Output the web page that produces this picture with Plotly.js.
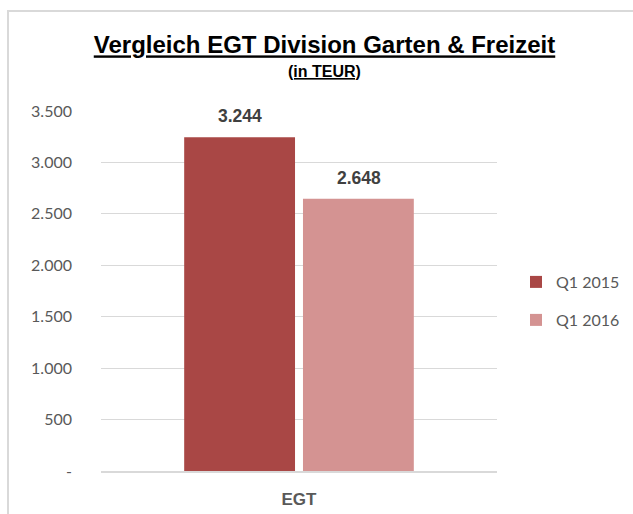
<!DOCTYPE html>
<html><head><meta charset="utf-8">
<script src="https://cdn.plot.ly/plotly-3.0.1.min.js"></script>
<style>
html,body{margin:0;padding:0;background:#fff;}
#wrap{position:relative;width:633px;height:514px;}
#chart{position:absolute;left:0;top:0;width:633px;height:514px;}
#frame{position:absolute;left:7px;top:10px;width:640px;height:520px;border-left:2px solid #d9d9d9;border-top:2px solid #d9d9d9;pointer-events:none;}
</style></head>
<body><div id="wrap"><div id="chart"></div><div id="frame"></div></div>
<script>
const categories = ['EGT'];
const seriesNames = ['Q1 2015', 'Q1 2016'];
const values2015 = [3244];
const values2016 = [2648];
const yTickVals = [0, 500, 1000, 1500, 2000, 2500, 3000, 3500];
const yTickText = ['-', '500', '1.000', '1.500', '2.000', '2.500', '3.000', '3.500'];
const colors = ['#a94745', '#d49392'];

const gray = '#595959';
const traces = [
  {type:'bar', name:seriesNames[0], x:categories, y:values2015, marker:{color:colors[0]}, legend:'legend', hoverinfo:'none'},
  {type:'bar', name:seriesNames[1], x:categories, y:values2016, marker:{color:colors[1]}, legend:'legend2', hoverinfo:'none'}
];

const fmt = v => v.toLocaleString('de-DE');
const annotations = [];
[values2015, values2016].forEach((vals, i) => {
  vals.forEach((v, j) => {
    annotations.push({x:categories[j], y:v, xref:'x', yref:'y', text:'<b>'+fmt(v)+'</b>', showarrow:false,
      xshift:(i===0?-59.5:59.5), yanchor:'bottom', yshift:9, font:{family:'Liberation Sans, Arial', size:17.5, color:'#404040'}});
  });
});
annotations.push({x:0.5, y:(470.7-71)/360, xref:'paper', yref:'paper', yanchor:'middle', text:'<b><u>(in TEUR)</u></b>', showarrow:false,
  xshift:25, font:{family:'Liberation Sans, Arial', size:16, color:'#000'}});

const legendFont = {family:'Lato, Open Sans, sans-serif', size:16, color:gray};
const layout = {
  width:633, height:514,
  margin:{l:101, r:136, t:110.7, b:43.3},
  paper_bgcolor:'#fff', plot_bgcolor:'#fff',
  title:{text:'<b><u>Vergleich EGT Division Garten & Freizeit</u></b>', x:324.5/633, xanchor:'center', xref:'container',
    y:1-45/514, yref:'container', yanchor:'middle', font:{family:'Liberation Sans, Arial', size:24, color:'#000'}},
  barmode:'group', bargap:0.4, bargroupgap:0.067,
  separators:',.',
  xaxis:{type:'category', showgrid:false, showline:true, linecolor:'#d9d9d9', linewidth:1.5, ticks:'',
    tickfont:{family:'Liberation Sans, Arial', size:17, color:gray, weight:'bold'}, ticklabelstandoff:12, fixedrange:true},
  yaxis:{range:[0,3500], tickvals:yTickVals, ticktext:yTickText, showgrid:true, gridcolor:'#d9d9d9', gridwidth:1,
    zeroline:false, showline:false, ticks:'', ticklabelstandoff:28,
    tickfont:{family:'Lato, Open Sans, sans-serif', size:16, color:gray}, fixedrange:true},
  showlegend:true,
  legend:{x:516/633, xref:'container', y:1-282/514, yref:'container', yanchor:'middle', xanchor:'left',
    font:legendFont, itemwidth:30, bgcolor:'rgba(0,0,0,0)'},
  legend2:{x:516/633, xref:'container', y:1-320/514, yref:'container', yanchor:'middle', xanchor:'left',
    font:legendFont, itemwidth:30, bgcolor:'rgba(0,0,0,0)'},
  annotations:annotations
};
Plotly.newPlot('chart', traces, layout, {staticPlot:true, displayModeBar:false});
</script></body></html>
